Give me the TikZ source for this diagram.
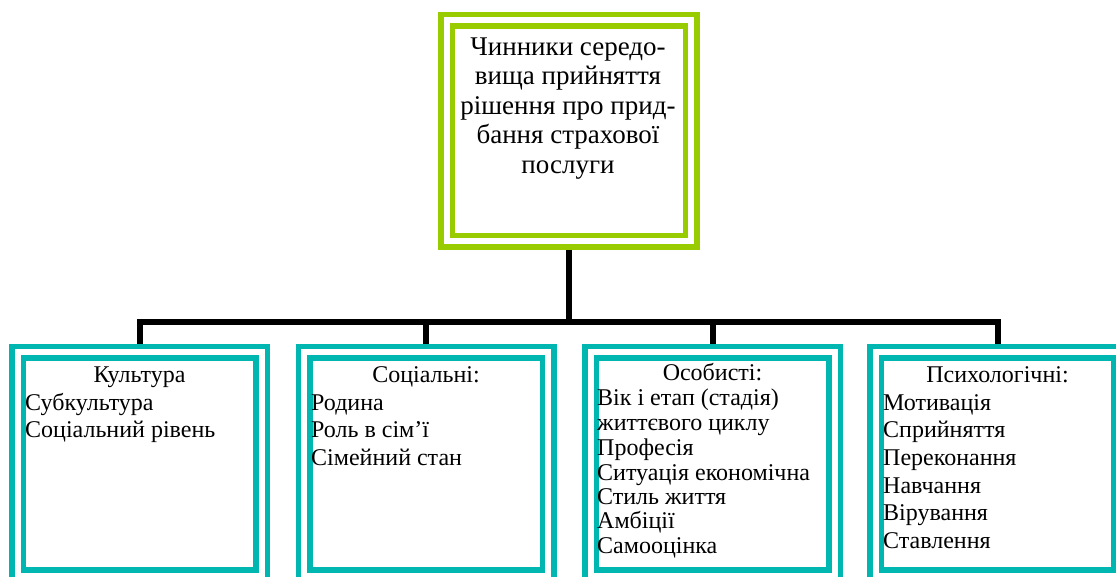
\documentclass[tikz,border=0pt]{standalone}
\usepackage{fontspec}
\setmainfont{Liberation Serif}
\definecolor{leaf}{RGB}{153,204,0}
\definecolor{sea}{RGB}{0,182,176}
\begin{document}
\begin{tikzpicture}[x=1pt,y=-1pt,
  dframe/.style={rectangle, draw=#1, double=white, line width=5.5pt,
    double distance=6pt, fill=white, inner sep=0pt, outer sep=8.5pt},
  topframe/.style={dframe=leaf, minimum width=244.5pt, minimum height=221pt},
  subframe/.style={dframe=sea, minimum width=244pt, minimum height=223.5pt},
  conn/.style={draw=black, line width=6pt, line join=miter},
  title/.style={font=\fontsize{27}{30}\selectfont, anchor=base, inner sep=0pt},
  head/.style={font=\fontsize{24}{28}\selectfont, anchor=base, inner sep=0pt},
  item/.style={font=\fontsize{24}{28}\selectfont, anchor=base west, inner sep=0pt},
]
\clip (0,0) rectangle (1116,576);
\fill[white] (0,0) rectangle (1116,576);

% main factor box
\node[topframe] (top) at (568.75,130.5) {};
\node[title] (t1) at (568,55)    {Чинники середо-};
\node[title] (t2) at (568,84.5)  {вища прийняття};
\node[title] (t3) at (568,114)   {рішення про прид-};
\node[title] (t4) at (568,143.5) {бання страхової};
\node[title] (t5) at (568,173)   {послуги};

% four factor groups
\node[subframe] (b1) at (139.5,463.75) {};
\node[subframe] (b2) at (426,463.75) {};
\node[subframe] (b3) at (712.5,463.75) {};
\node[subframe] (b4) at (997.5,463.75) {};

% group 1
\node[head] (h1) at (139.5,382) {Культура};
\node[item] (a1) at (25,410) {Субкультура};
\node[item] (a2) at (25,437) {Соціальний рівень};

% group 2
\node[head] (h2) at (426,382) {Соціальні:};
\node[item] (c1) at (311,410) {Родина};
\node[item] (c2) at (311,437) {Роль в сім’ї};
\node[item] (c3) at (311,465) {Сімейний стан};

% group 3
\node[head] (h3) at (712.5,380) {Особисті:};
\node[item] (d1) at (597,405) {Вік і етап (стадія)};
\node[item] (d2) at (597,430) {життєвого циклу};
\node[item] (d3) at (597,455) {Професія};
\node[item] (d4) at (597,480) {Ситуація економічна};
\node[item] (d5) at (597,504) {Стиль життя};
\node[item] (d6) at (597,528) {Амбіції};
\node[item] (d7) at (597,553) {Самооцінка};

% group 4
\node[head] (h4) at (997.5,382) {Психологічні:};
\node[item] (e1) at (883,410) {Мотивація};
\node[item] (e2) at (883,437) {Сприйняття};
\node[item] (e3) at (883,465) {Переконання};
\node[item] (e4) at (883,493) {Навчання};
\node[item] (e5) at (883,520) {Вірування};
\node[item] (e6) at (883,548) {Ставлення};

% connector tree
\coordinate (bus) at (569,321.5);
\draw[conn] (top.south) -- (top.south |- bus);
\draw[conn] (b1.north) -- (b1.north |- bus) -- (b4.north |- bus) -- (b4.north);
\draw[conn] (b2.north) -- (b2.north |- bus);
\draw[conn] (b3.north) -- (b3.north |- bus);
\end{tikzpicture}
\end{document}
